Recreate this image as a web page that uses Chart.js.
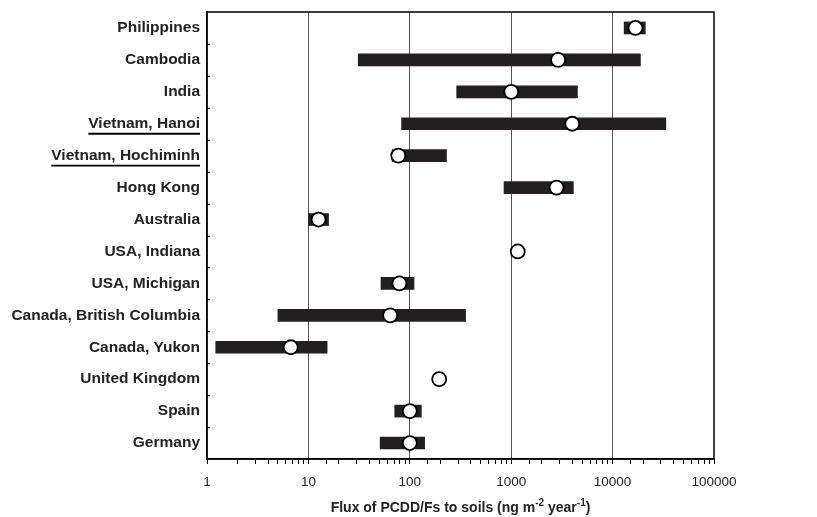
<!DOCTYPE html>
<html>
<head>
<meta charset="utf-8">
<script src="https://cdn.jsdelivr.net/npm/chart.js@4"></script>
<style>
  html, body { margin: 0; padding: 0; background: #fff; }
  #wrap { width: 817px; height: 517px; }
</style>
</head>
<body>
<div id="wrap"><canvas id="myChart"></canvas></div>
<script>
var categories = ["Philippines", "Cambodia", "India", "Vietnam, Hanoi", "Vietnam, Hochiminh",
    "Hong Kong", "Australia", "USA, Indiana", "USA, Michigan", "Canada, British Columbia",
    "Canada, Yukon", "United Kingdom", "Spain", "Germany"];
var lowValues  = [13000, 31, 290, 83, 67, 850, 10, null, 52, 5.0, 1.22, null, 71, 51];
var highValues = [21000, 18800, 4500, 33500, 230, 4100, 15.8, null, 110, 355, 15.3, null, 130, 140];
var typicalValues = [16800, 2900, 1000, 4000, 77, 2800, 12.6, 1160, 79, 64, 6.7, 195, 100, 100];
var underlined = ["Vietnam, Hanoi", "Vietnam, Hochiminh"];

var ranges = lowValues.map(function (lo, i) {
    return lo === null ? null : [lo, highValues[i]];
});

var labelFont = 'bold 15.5px "Liberation Sans", Arial, sans-serif';

function isPow10(v) {
    var l = Math.log10(v);
    return Math.abs(l - Math.round(l)) < 1e-9;
}

// frame, inward category ticks, underlines, and the axis title with superscripts
var extras = {
    id: 'extras',
    afterDraw: function (chart) {
        var c = chart.ctx, a = chart.chartArea, ys = chart.scales.y;
        c.save();
        c.strokeStyle = '#000';
        c.lineWidth = 1.5;
        c.strokeRect(a.left, a.top, a.right - a.left, a.bottom - a.top);

        c.lineWidth = 1;
        var step = (a.bottom - a.top) / categories.length;
        for (var i = 1; i < categories.length; i++) {
            var ty = Math.round(a.top + i * step) + 0.5;
            c.beginPath();
            c.moveTo(a.left, ty);
            c.lineTo(a.left + 3, ty);
            c.stroke();
        }

        c.font = labelFont;
        c.lineWidth = 1.8;
        underlined.forEach(function (name) {
            var idx = categories.indexOf(name);
            var y = ys.getPixelForValue(idx) + 10;
            var w = c.measureText(name).width;
            var right = a.left - 7;
            c.beginPath();
            c.moveTo(right - w, y);
            c.lineTo(right, y);
            c.stroke();
        });

        var parts = [
            { t: 'Flux of PCDD/Fs to soils (ng m', sup: false },
            { t: '-2', sup: true },
            { t: ' year', sup: false },
            { t: '-1', sup: true },
            { t: ')', sup: false }
        ];
        var bigFont = 'bold 14px "Liberation Sans", Arial, sans-serif';
        var smallFont = 'bold 10px "Liberation Sans", Arial, sans-serif';
        var total = 0;
        parts.forEach(function (p) {
            c.font = p.sup ? smallFont : bigFont;
            p.w = c.measureText(p.t).width;
            total += p.w;
        });
        var x = (a.left + a.right) / 2 - total / 2;
        var base = 512;
        c.fillStyle = '#222';
        c.textBaseline = 'alphabetic';
        c.textAlign = 'left';
        parts.forEach(function (p) {
            c.font = p.sup ? smallFont : bigFont;
            c.fillText(p.t, x, p.sup ? base - 6 : base);
            x += p.w;
        });
        c.restore();
    }
};

var ctx = document.getElementById('myChart');
var myChart = new Chart(ctx, {
    type: 'bar',
    data: {
        labels: categories,
        datasets: [
            {
                type: 'line',
                indexAxis: 'y',
                data: typicalValues,
                showLine: false,
                pointRadius: 7,
                pointHoverRadius: 7,
                pointBackgroundColor: '#fff',
                pointBorderColor: '#000',
                pointBorderWidth: 1.8,
                order: 0
            },
            {
                type: 'bar',
                data: ranges,
                backgroundColor: '#231f20',
                borderWidth: 0,
                barThickness: 12,
                borderSkipped: false,
                order: 1
            }
        ]
    },
    options: {
        indexAxis: 'y',
        responsive: true,
        maintainAspectRatio: false,
        animation: false,
        layout: { padding: { top: 12, right: 103, left: 0, bottom: 0 } },
        plugins: {
            legend: { display: false },
            title: { display: false },
            tooltip: { enabled: false }
        },
        scales: {
            x: {
                type: 'logarithmic',
                min: 1,
                max: 100000,
                afterFit: function (s) { s.height = 58; },
                border: { color: '#000', width: 1.5 },
                grid: {
                    color: function (c) {
                        var v = c.tick && c.tick.value;
                        if (v && isPow10(v) && v > 1 && v < 100000) return '#555';
                        return 'rgba(0,0,0,0)';
                    },
                    tickColor: '#000',
                    tickLength: 5,
                    lineWidth: 1
                },
                ticks: {
                    autoSkip: false,
                    maxRotation: 0,
                    padding: 10,
                    color: '#222',
                    font: { family: '"Liberation Sans", Arial, sans-serif', size: 13.5 },
                    callback: function (v) { return isPow10(v) ? String(Math.round(v)) : ''; }
                }
            },
            y: {
                type: 'category',
                afterFit: function (s) {
                    s.width = 207;
                    s.paddingTop = 0;
                    s.paddingBottom = 0;
                },
                border: { color: '#000', width: 1.5 },
                grid: { display: false, drawTicks: false },
                ticks: {
                    padding: 7,
                    color: '#222',
                    font: { family: '"Liberation Sans", Arial, sans-serif', size: 15.5, weight: 'bold' }
                }
            }
        }
    },
    plugins: [extras]
});
</script>
</body>
</html>
